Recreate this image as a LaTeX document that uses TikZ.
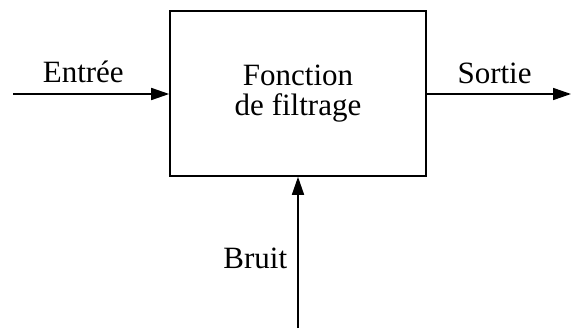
\documentclass[tikz,border=0pt]{standalone}
\usepackage{fontspec}
\setmainfont{Liberation Serif}
\usepackage{tikz}
\usetikzlibrary{positioning, arrows.meta}

\begin{document}
\begin{tikzpicture}[x=0.5pt, y=-0.5pt, line width=0.8pt, font=\fontsize{15.5}{15}\selectfont,
    sig/.style={-{Triangle[length=9pt, width=6pt]}}]
    \useasboundingbox (0,0) rectangle (571,331);
    \node[draw, rectangle, minimum width=128pt, minimum height=82.5pt, align=center] (filtre) at (298,93.5) {Fonction\\de filtrage};
    \coordinate (in) at (13,94);
    \coordinate (out) at (571,94);
    \coordinate (noise) at (298,328);
    \draw[sig] (in) -- node[above, pos=0.45, inner sep=5pt] {Entrée} (in -| filtre.west);
    \draw[sig] (out -| filtre.east) -- node[above, pos=0.47, inner sep=4.5pt] {Sortie} (out);
    \draw[sig] (noise) -- node[left, pos=0.46, inner sep=5pt] {Bruit} (filtre.south);
  \end{tikzpicture}
\end{document}
